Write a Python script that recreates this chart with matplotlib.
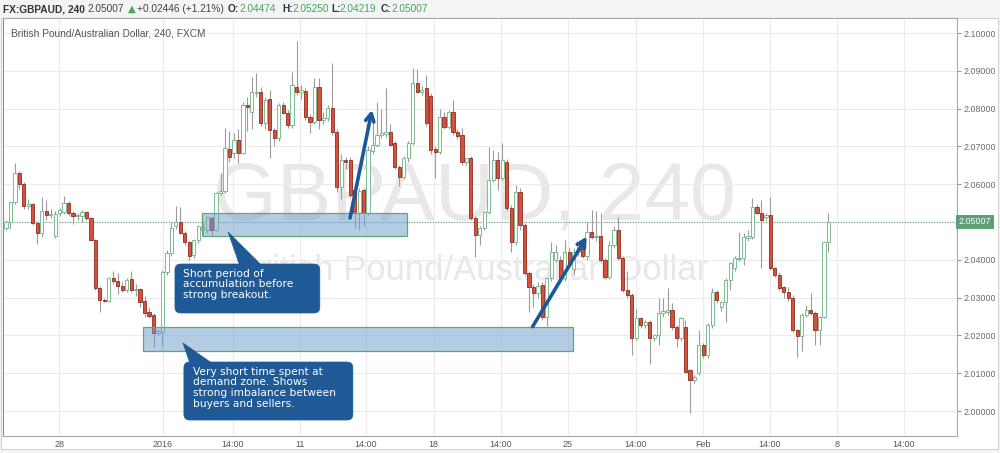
import numpy as np
import matplotlib
matplotlib.use("Agg")
import matplotlib.pyplot as plt
from matplotlib.patches import Rectangle, FancyBboxPatch, Polygon

# 4h candles, GBPAUD (FXCM)
opens = [
    2.0485, 2.0500, 2.0552, 2.0630, 2.0600, 2.0542, 2.0547, 2.0497, 2.0471, 2.0530,
    2.0518, 2.0462, 2.0523, 2.0527, 2.0550, 2.0523, 2.0515, 2.0516, 2.0526, 2.0510,
    2.0452, 2.0325, 2.0294, 2.0291, 2.0352, 2.0344, 2.0331, 2.0321, 2.0349, 2.0320,
    2.0322, 2.0291, 2.0262, 2.0254, 2.0206, 2.0210, 2.0368, 2.0418, 2.0490, 2.0500,
    2.0471, 2.0447, 2.0413, 2.0452, 2.0480, 2.0480, 2.0510, 2.0479, 2.0577, 2.0582,
    2.0693, 2.0683, 2.0717, 2.0683, 2.0810, 2.0790, 2.0840, 2.0845, 2.0762, 2.0825,
    2.0743, 2.0722, 2.0810, 2.0788, 2.0757, 2.0857, 2.0844, 2.0847, 2.0778, 2.0765,
    2.0857, 2.0770, 2.0775, 2.0801, 2.0738, 2.0593, 2.0664, 2.0664, 2.0585, 2.0524,
    2.0584, 2.0524, 2.0688, 2.0704, 2.0730, 2.0733, 2.0737, 2.0709, 2.0646, 2.0620,
    2.0669, 2.0710, 2.0868, 2.0844, 2.0854, 2.0833, 2.0693, 2.0685, 2.0778, 2.0752,
    2.0790, 2.0738, 2.0730, 2.0659, 2.0669, 2.0510, 2.0466, 2.0484, 2.0526, 2.0611,
    2.0664, 2.0616, 2.0659, 2.0537, 2.0447, 2.0580, 2.0492, 2.0365, 2.0328, 2.0312,
    2.0333, 2.0249, 2.0352, 2.0400, 2.0400, 2.0352, 2.0420, 2.0375, 2.0420, 2.0439,
    2.0410, 2.0473, 2.0460, 2.0463, 2.0400, 2.0355, 2.0439, 2.0479, 2.0405, 2.0320,
    2.0307, 2.0193, 2.0246, 2.0228, 2.0235, 2.0193, 2.0201, 2.0259, 2.0262, 2.0267,
    2.0222, 2.0193, 2.0222, 2.0108, 2.0082, 2.0100, 2.0175, 2.0148, 2.0228, 2.0315,
    2.0274, 2.0288, 2.0347, 2.0378, 2.0402, 2.0405, 2.0458, 2.0460, 2.0540, 2.0524,
    2.0512, 2.0519, 2.0378, 2.0360, 2.0328, 2.0315, 2.0299, 2.0214, 2.0198, 2.0254,
    2.0267, 2.0259, 2.0214, 2.0249, 2.04474,
]
highs = [
    2.0505, 2.0556, 2.0656, 2.0634, 2.0606, 2.0562, 2.0550, 2.0500, 2.0565, 2.0558,
    2.0535, 2.0528, 2.0538, 2.0569, 2.0555, 2.0530, 2.0525, 2.0532, 2.0530, 2.0512,
    2.0455, 2.0330, 2.0298, 2.0355, 2.0370, 2.0365, 2.0340, 2.0352, 2.0370, 2.0335,
    2.0325, 2.0305, 2.0275, 2.0260, 2.0216, 2.0372, 2.0425, 2.0500, 2.0542, 2.0540,
    2.0476, 2.0450, 2.0455, 2.0492, 2.0500, 2.0515, 2.0516, 2.0580, 2.0630, 2.0749,
    2.0740, 2.0735, 2.0745, 2.0818, 2.0830, 2.0884, 2.0894, 2.0858, 2.0830, 2.0850,
    2.0750, 2.0815, 2.0818, 2.0795, 2.0897, 2.0980, 2.0862, 2.0855, 2.0785, 2.0880,
    2.0882, 2.0790, 2.0810, 2.0920, 2.0745, 2.0680, 2.0672, 2.0672, 2.0590, 2.0590,
    2.0590, 2.0700, 2.0778, 2.0817, 2.0800, 2.0854, 2.0760, 2.0715, 2.0650, 2.0675,
    2.0715, 2.0907, 2.0905, 2.0860, 2.0890, 2.0840, 2.0700, 2.0800, 2.0790, 2.0795,
    2.0823, 2.0745, 2.0750, 2.0670, 2.0675, 2.0515, 2.0490, 2.0530, 2.0698, 2.0690,
    2.0685, 2.0709, 2.0668, 2.0545, 2.0598, 2.0590, 2.0498, 2.0370, 2.0335, 2.0340,
    2.0340, 2.0355, 2.0447, 2.0440, 2.0410, 2.0452, 2.0430, 2.0430, 2.0445, 2.0445,
    2.0500, 2.0532, 2.0528, 2.0525, 2.0405, 2.0450, 2.0490, 2.0513, 2.0410, 2.0370,
    2.0312, 2.0270, 2.0250, 2.0240, 2.0240, 2.0205, 2.0300, 2.0300, 2.0325, 2.0285,
    2.0228, 2.0250, 2.0240, 2.0112, 2.0095, 2.0215, 2.0180, 2.0232, 2.0325, 2.0320,
    2.0292, 2.0352, 2.0395, 2.0410, 2.0474, 2.0470, 2.0480, 2.0563, 2.0548, 2.0558,
    2.0525, 2.0566, 2.0382, 2.0368, 2.0332, 2.0328, 2.0307, 2.0218, 2.0258, 2.0280,
    2.0312, 2.0265, 2.0252, 2.0450, 2.05250,
]
lows = [
    2.0478, 2.0482, 2.0548, 2.0588, 2.0535, 2.0535, 2.0492, 2.0442, 2.0460, 2.0505,
    2.0510, 2.0458, 2.0515, 2.0520, 2.0515, 2.0495, 2.0505, 2.0500, 2.0505, 2.0450,
    2.0320, 2.0262, 2.0288, 2.0288, 2.0335, 2.0310, 2.0315, 2.0315, 2.0315, 2.0305,
    2.0276, 2.0250, 2.0245, 2.0169, 2.0200, 2.0172, 2.0360, 2.0410, 2.0482, 2.0468,
    2.0440, 2.0400, 2.0405, 2.0445, 2.0465, 2.0470, 2.0462, 2.0475, 2.0572, 2.0578,
    2.0660, 2.0670, 2.0655, 2.0680, 2.0740, 2.0745, 2.0830, 2.0755, 2.0745, 2.0670,
    2.0700, 2.0715, 2.0785, 2.0750, 2.0750, 2.0835, 2.0825, 2.0770, 2.0735, 2.0760,
    2.0745, 2.0760, 2.0768, 2.0730, 2.0580, 2.0562, 2.0640, 2.0565, 2.0484, 2.0480,
    2.0490, 2.0518, 2.0680, 2.0698, 2.0722, 2.0725, 2.0700, 2.0640, 2.0595, 2.0615,
    2.0660, 2.0705, 2.0840, 2.0835, 2.0755, 2.0680, 2.0616, 2.0680, 2.0745, 2.0745,
    2.0730, 2.0720, 2.0650, 2.0650, 2.0505, 2.0407, 2.0440, 2.0478, 2.0520, 2.0605,
    2.0585, 2.0610, 2.0530, 2.0420, 2.0440, 2.0480, 2.0360, 2.0262, 2.0275, 2.0300,
    2.0240, 2.0225, 2.0345, 2.0395, 2.0345, 2.0345, 2.0380, 2.0360, 2.0410, 2.0405,
    2.0400, 2.0455, 2.0450, 2.0395, 2.0350, 2.0350, 2.0432, 2.0400, 2.0315, 2.0300,
    2.0148, 2.0188, 2.0220, 2.0220, 2.0124, 2.0185, 2.0175, 2.0250, 2.0255, 2.0215,
    2.0169, 2.0185, 2.0100, 1.9995, 2.0075, 2.0095, 2.0140, 2.0140, 2.0220, 2.0285,
    2.0265, 2.0235, 2.0321, 2.0370, 2.0398, 2.0385, 2.0450, 2.0455, 2.0520, 2.0378,
    2.0505, 2.0372, 2.0355, 2.0320, 2.0300, 2.0290, 2.0210, 2.0143, 2.0160, 2.0248,
    2.0255, 2.0174, 2.0174, 2.0245, 2.04219,
]
closes = [
    2.0500, 2.0552, 2.0630, 2.0600, 2.0542, 2.0547, 2.0497, 2.0471, 2.0530, 2.0518,
    2.0522, 2.0521, 2.0531, 2.0550, 2.0523, 2.0515, 2.0518, 2.0526, 2.0510, 2.0452,
    2.0325, 2.0294, 2.0291, 2.0352, 2.0344, 2.0331, 2.0321, 2.0346, 2.0320, 2.0322,
    2.0288, 2.0259, 2.0252, 2.0206, 2.0212, 2.0368, 2.0418, 2.0484, 2.0500, 2.0471,
    2.0447, 2.0410, 2.0452, 2.0489, 2.0487, 2.0512, 2.0479, 2.0577, 2.0582, 2.0696,
    2.0672, 2.0717, 2.0683, 2.0810, 2.0803, 2.0844, 2.0845, 2.0762, 2.0822, 2.0743,
    2.0722, 2.0810, 2.0788, 2.0757, 2.0862, 2.0844, 2.0850, 2.0778, 2.0765, 2.0857,
    2.0770, 2.0775, 2.0801, 2.0738, 2.0593, 2.0664, 2.0660, 2.0571, 2.0524, 2.0582,
    2.0524, 2.0690, 2.0704, 2.0730, 2.0735, 2.0737, 2.0704, 2.0646, 2.0620, 2.0669,
    2.0710, 2.0868, 2.0844, 2.0850, 2.0762, 2.0690, 2.0685, 2.0778, 2.0752, 2.0790,
    2.0738, 2.0728, 2.0659, 2.0669, 2.0510, 2.0466, 2.0484, 2.0526, 2.0611, 2.0664,
    2.0616, 2.0664, 2.0537, 2.0447, 2.0580, 2.0492, 2.0365, 2.0328, 2.0312, 2.0330,
    2.0249, 2.0352, 2.0420, 2.0420, 2.0352, 2.0420, 2.0390, 2.0420, 2.0439, 2.0410,
    2.0473, 2.0460, 2.0463, 2.0400, 2.0355, 2.0439, 2.0479, 2.0405, 2.0320, 2.0307,
    2.0193, 2.0246, 2.0228, 2.0235, 2.0193, 2.0201, 2.0259, 2.0265, 2.0267, 2.0222,
    2.0193, 2.0246, 2.0103, 2.0082, 2.0090, 2.0175, 2.0148, 2.0228, 2.0315, 2.0294,
    2.0288, 2.0347, 2.0392, 2.0405, 2.0406, 2.0460, 2.0462, 2.0540, 2.0524, 2.0505,
    2.0518, 2.0378, 2.0360, 2.0325, 2.0315, 2.0299, 2.0214, 2.0198, 2.0254, 2.0267,
    2.0259, 2.0214, 2.0249, 2.0447, 2.05007,
]

# time axis labels (candle index where the label sits)
tick_pos = [11.9, 35.1, 50.8, 65.8, 80.5, 95.7, 110.7, 125.7, 140.9, 155.9, 170.9, 185.9, 200.9]
tick_labels = ["28", "2016", "14:00", "11", "14:00", "18", "14:00", "25",
               "14:00", "Feb", "14:00", "8", "14:00"]
price_ticks = [2.00, 2.01, 2.02, 2.03, 2.04, 2.05, 2.06, 2.07, 2.08, 2.09, 2.10]
last_price = 2.05007

o = np.array(opens)
h = np.array(highs)
l = np.array(lows)
c = np.array(closes)
x = np.arange(len(c))
up = c >= o

fig = plt.figure(figsize=(10, 4.53), dpi=100, facecolor="#f3f4f6")
fig.patches.append(Rectangle((0.001, 1 - 449 / 453), 0.997, 431 / 453,
                             transform=fig.transFigure, facecolor="white",
                             edgecolor="#cfd2d6", lw=0.8, zorder=-5))
ax = fig.add_axes([0.003, 17 / 453, 0.954, 418 / 453])
ax.set_facecolor("white")

# watermark
ax.text(104.9, 2.0563, "GBPAUD, 240", fontsize=59, color="#e8e8e8",
        family="Liberation Sans", ha="center", va="center", zorder=0.5)
ax.text(104.5, 2.0373, "British Pound/Australian Dollar", fontsize=25, color="#e8e8e8",
        family="Liberation Sans", ha="center", va="center", zorder=0.5)

# candles
ax.axhline(last_price, color="#6aa57c", lw=0.8, ls=(0, (1, 1.4)), zorder=1.5)
ax.vlines(x, l, h, color="#9c9c9c", lw=0.8, zorder=2)
bottom = np.minimum(o, c)
height = np.maximum(np.abs(c - o), 0.00008)
ax.bar(x[up], height[up], bottom=bottom[up], width=0.72, facecolor="white",
       edgecolor="#7dbb91", lw=0.7, zorder=3)
ax.bar(x[~up], height[~up], bottom=bottom[~up], width=0.72, facecolor="#d8503c",
       edgecolor="#8c2e20", lw=0.6, zorder=3)

# zones
for (x0, x1, y0, y1) in [(43.8, 89.7, 2.04637, 2.05238), (30.7, 126.8, 2.01595, 2.02230)]:
    ax.add_patch(Rectangle((x0, y0), x1 - x0, y1 - y0, facecolor=(0.42, 0.61, 0.80, 0.5),
                           edgecolor="#63a86a", lw=0.9, zorder=4))

# callouts
asp = 4.47 / 3780
blue = "#1f5a96"
def callout(x0, x1, y0, y1, tip, bl, br, text, tx, ty):
    ax.add_patch(FancyBboxPatch((x0, y0), x1 - x0, y1 - y0,
                                boxstyle="round,pad=0,rounding_size=1.3",
                                mutation_aspect=asp, facecolor=blue,
                                edgecolor=blue, lw=0.5, zorder=5))
    ax.add_patch(Polygon([tip, (bl, y1 - 0.0005), (br, y1 - 0.0005)], closed=True,
                         facecolor=blue, edgecolor=blue, lw=0.5, zorder=5))
    ax.text(tx, ty, text, color="white", fontsize=7.7, family="DejaVu Sans",
            ha="left", va="top", linespacing=1.08, zorder=6)

callout(37.8, 70.2, 2.02593, 2.03889, (49.7, 2.04735), 52.3, 57.3,
        "Short period of\naccumulation before\nstrong breakout.", 39.6, 2.0377)
callout(39.8, 77.6, 1.99762, 2.01296, (39.6, 2.01799), 41.2, 46.3,
        "Very short time spent at\ndemand zone. Shows\nstrong imbalance between\nbuyers and sellers.",
        41.8, 2.0117)

# arrows
for (sx, sy, ex, ey) in [(76.96, 2.05106, 81.88, 2.07963), (117.8, 2.02230, 129.9, 2.04611)]:
    ax.annotate("", xy=(ex, ey), xytext=(sx, sy),
                arrowprops=dict(arrowstyle="->,head_length=0.55,head_width=0.3",
                                color="#1c5896", lw=2.6, shrinkA=0, shrinkB=0),
                zorder=7)

# axes
ax.set_xlim(-0.67, 212.75)
ax.set_ylim(1.99339, 2.10397)
ax.set_xticks(tick_pos)
ax.set_xticklabels(tick_labels, family=["Liberation Sans Narrow", "Liberation Sans"])
ax.set_yticks(price_ticks)
# the 2.05 label sits under the last-price tag
ax.set_yticklabels(["" if abs(p - last_price) < 0.003 else f"{p:.5f}" for p in price_ticks],
                   family="Liberation Sans")
ax.yaxis.tick_right()
ax.tick_params(axis="y", length=3, color="#9a9a9a", labelsize=6.4, labelcolor="#6a6a6a", pad=2)
ax.tick_params(axis="x", length=0, labelsize=6.5, labelcolor="#555555", pad=3)
ax.grid(color="#ececec", lw=0.8, zorder=0)
ax.set_axisbelow(True)
for s in ax.spines.values():
    s.set_color("#a8a8a8")
    s.set_linewidth(0.8)
ax.spines["left"].set_color("#8a8a8a")

# last price tag
ax.text(1.002, last_price, f"{last_price:.5f}", transform=ax.get_yaxis_transform(),
        ha="left", va="center", color="white", fontsize=6.4, family="Liberation Sans",
        bbox=dict(boxstyle="square,pad=0.3", facecolor="#5f9f76", edgecolor="none"),
        clip_on=False, zorder=8)

# header and title
hy = 1 - 9 / 453
green = "#45a855"
dark = "#333333"
parts = [
    (0.003, "FX:GBPAUD, 240", dark, "bold"),
    (0.087, "2.05007", "#444444", "normal"),
    (0.128, "\u25B2", green, "normal"),
    (0.137, "+0.02446 (+1.21%)", "#444444", "normal"),
    (0.228, "O:", dark, "bold"),
    (0.239, "2.04474", green, "normal"),
    (0.282, "H:", dark, "bold"),
    (0.292, "2.05250", green, "normal"),
    (0.331, "L:", dark, "bold"),
    (0.339, "2.04219", green, "normal"),
    (0.381, "C:", dark, "bold"),
    (0.391, "2.05007", green, "normal"),
]
for px, txt, col, wt in parts:
    fam = "DejaVu Sans" if txt == "\u25B2" else "Liberation Sans"
    fig.text(px, hy, txt, color=col, fontsize=7.3, fontweight=wt, family=fam,
             ha="left", va="center")
fig.text(0.011, 1 - 33 / 453, "British Pound/Australian Dollar, 240, FXCM",
         color="#555555", fontsize=7.3, family="Liberation Sans", ha="left", va="center")

fig.savefig("out.png", dpi=100, facecolor=fig.get_facecolor())
